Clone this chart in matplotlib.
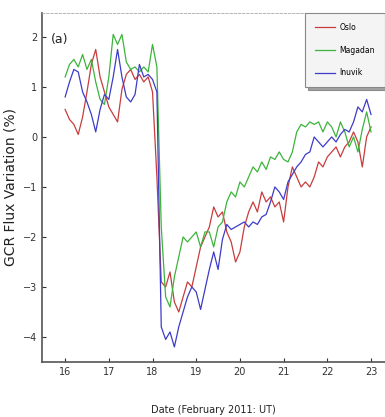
import numpy as np
import matplotlib
matplotlib.use("Agg")
import matplotlib.pyplot as plt

# time axis: 0.1 day steps, 16 Feb -> 23 Feb 2011
days = np.round(np.arange(16.0, 23.001, 0.1), 1)

oslo = [0.55, 0.35, 0.25, 0.05, 0.4, 0.9, 1.45, 1.75, 1.2, 0.9,
        0.6, 0.45, 0.3, 0.95, 1.25, 1.35, 1.15, 1.25, 1.1, 1.2,
        0.9, -0.8, -2.9, -3.0, -2.7, -3.3, -3.5, -3.2, -2.9, -3.0,
        -2.6, -2.2, -2.0, -1.8, -1.4, -1.6, -1.5, -1.9, -2.1, -2.5,
        -2.3, -1.8, -1.5, -1.3, -1.5, -1.1, -1.3, -1.2, -1.4, -1.3,
        -1.7, -1.0, -0.6, -0.8, -1.0, -0.9, -1.0, -0.8, -0.5, -0.6,
        -0.4, -0.3, -0.2, -0.4, -0.2, -0.1, 0.1, -0.1, -0.6, 0.0,
        0.2]

magadan = [1.2, 1.45, 1.55, 1.4, 1.65, 1.35, 1.55, 1.1, 0.75, 0.65,
           1.2, 2.05, 1.85, 2.05, 1.5, 1.35, 1.4, 1.3, 1.4, 1.3,
           1.85, 1.4, -1.8, -3.2, -3.4, -2.8, -2.4, -2.0, -2.1, -2.0,
           -1.9, -2.2, -1.9, -1.9, -2.2, -1.8, -1.7, -1.3, -1.1, -1.2,
           -0.9, -1.0, -0.8, -0.6, -0.7, -0.5, -0.65, -0.4, -0.45, -0.3,
           -0.45, -0.5, -0.3, 0.1, 0.25, 0.2, 0.3, 0.25, 0.3, 0.1,
           0.3, 0.2, 0.0, 0.3, 0.1, -0.2, 0.0, -0.3, 0.15, 0.5,
           0.1]

inuvik = [0.8, 1.1, 1.35, 1.3, 0.9, 0.7, 0.45, 0.1, 0.55, 0.85,
          0.75, 1.2, 1.75, 1.2, 0.8, 0.7, 0.85, 1.45, 1.2, 1.25,
          1.15, 0.9, -3.8, -4.05, -3.9, -4.2, -3.8, -3.5, -3.2, -3.0,
          -3.1, -3.45, -3.05, -2.65, -2.3, -2.65, -2.05, -1.75, -1.85, -1.8,
          -1.75, -1.7, -1.8, -1.7, -1.75, -1.6, -1.55, -1.3, -1.0, -1.1,
          -1.25, -0.9, -0.75, -0.6, -0.5, -0.35, -0.3, 0.0, -0.1, -0.2,
          -0.1, 0.0, -0.1, 0.05, 0.15, 0.1, 0.3, 0.6, 0.5, 0.75,
          0.45]

labels = ["Oslo", "Magadan", "Inuvik"]
colors = ["#c83c3c", "#3cb43c", "#3c3cc8"]
xticks = [16, 17, 18, 19, 20, 21, 22, 23]
yticks = [-4, -3, -2, -1, 0, 1, 2]

fig = plt.figure(figsize=(3.85, 4.17), dpi=100)
ax = fig.add_axes([0.109, 0.132, 0.891, 0.837])

for series, lab, col in zip([oslo, magadan, inuvik], labels, colors):
    ax.plot(days, series, color=col, lw=0.9, label=lab)

ax.set_xlim(15.47, 23.32)
ax.set_ylim(-4.5, 2.48)
ax.set_xticks(xticks)
ax.set_yticks(yticks)
ax.tick_params(direction="in", length=3, width=0.8, labelsize=7,
               colors="#333333")
for s in ["left", "bottom"]:
    ax.spines[s].set_color("#555555")
    ax.spines[s].set_linewidth(1.2)
ax.spines["top"].set_color("#aaaaaa")
ax.spines["top"].set_linewidth(0.6)
ax.spines["top"].set_linestyle((0, (3, 2)))
ax.spines["right"].set_visible(False)

ax.text(0.025, 0.925, "(a)", transform=ax.transAxes, fontsize=9,
        color="#222222", va="center")

ax.set_xlabel("Date (February 2011: UT)", fontsize=7, color="#222222",
              labelpad=20)
ax.set_ylabel("GCR Flux Variation (%)", fontsize=10, color="#222222")
ax.yaxis.set_label_coords(-0.072, 0.5)

leg = ax.legend(loc="upper right", bbox_to_anchor=(1.0, 1.0),
                borderaxespad=0, fontsize=5.5, labelspacing=1.8,
                handlelength=2.6, handletextpad=0.6, fancybox=False,
                shadow=True, framealpha=1, borderpad=1.3)
leg.get_frame().set_edgecolor("#888888")
leg.get_frame().set_facecolor("#f4f4f4")
leg.get_frame().set_linewidth(0.8)

fig.savefig("out.png", dpi=100)
